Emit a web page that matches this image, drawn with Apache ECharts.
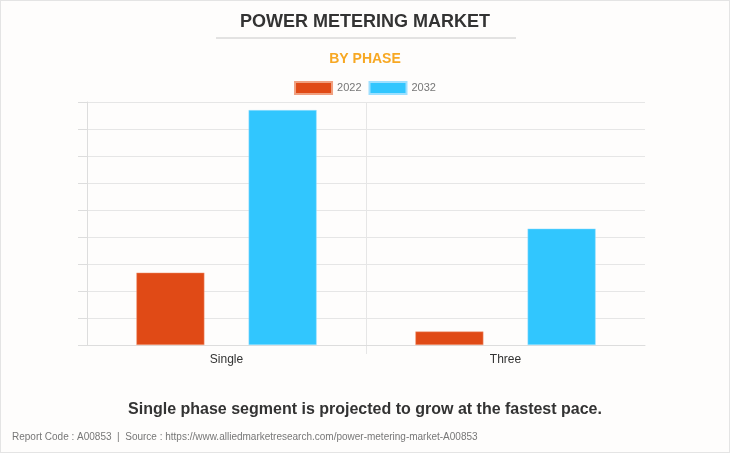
<!DOCTYPE html>
<html>
<head>
<meta charset="utf-8">
<script src="https://cdn.jsdelivr.net/npm/echarts@6/dist/echarts.min.js"></script>
<style>
html,body{margin:0;padding:0;background:#fff;}
#c{width:730px;height:453px;box-sizing:border-box;border:1px solid #e4e4e4;background:#fefdfc;}
</style>
</head>
<body>
<div id="c"></div>
<script>
const categories = ['Single', 'Three'];
const seriesNames = ['2022', '2032'];
const values2022 = [2.68, 0.50];
const values2032 = [8.70, 4.31];
const colors = ['#E04A16', '#31C6FE'];

const chart = echarts.init(document.getElementById('c'), null, {renderer: 'canvas'});
const font = 'Liberation Sans, Arial, sans-serif';
chart.setOption({
  backgroundColor: '#fefdfc',
  animation: false,
  textStyle: {fontFamily: font},
  title: [
    {text: 'POWER METERING MARKET', left: 'center', top: 7,
     textStyle: {fontSize: 18, fontWeight: 'bold', color: '#333', fontFamily: font}},
    {text: 'BY PHASE', left: 'center', top: 46,
     textStyle: {fontSize: 14, fontWeight: 'bold', color: '#F7A823', fontFamily: font}},
    {text: 'Single phase segment is projected to grow at the fastest pace.', left: 'center', top: 396,
     textStyle: {fontSize: 16, fontWeight: 'bold', color: '#333', fontFamily: font}},
    {text: 'Report Code : A00853  |  Source : https://www.alliedmarketresearch.com/power-metering-market-A00853', left: 6, top: 426,
     textStyle: {fontSize: 10, fontWeight: 'normal', color: '#777', fontFamily: font}}
  ],
  graphic: [
    {type: 'line', shape: {x1: 215, y1: 37, x2: 515, y2: 37}, style: {stroke: '#c8c8c8', lineWidth: 1}}
  ],
  legend: {
    top: 75, left: 'center', itemWidth: 37, itemHeight: 12, itemGap: 7,
    icon: 'rect',
    textStyle: {fontSize: 11, color: '#777', fontFamily: font},
    data: seriesNames
  },
  grid: {left: 86, right: 84, top: 101, bottom: 107, containLabel: false},
  xAxis: {
    type: 'category', data: categories,
    axisLine: {lineStyle: {color: '#ddd'}},
    axisTick: {show: false},
    axisLabel: {fontSize: 12, color: '#333', margin: 9, fontFamily: font},
    splitLine: {show: true, lineStyle: {color: ['transparent', '#e6e6e6', 'transparent']}}
  },
  yAxis: {
    type: 'value', min: 0, max: 9, interval: 1,
    axisLine: {show: true, lineStyle: {color: '#ddd'}},
    axisTick: {show: true, length: 9, lineStyle: {color: '#ddd'}},
    axisLabel: {show: false},
    splitLine: {lineStyle: {color: '#e6e6e6'}}
  },
  series: [
    {name: seriesNames[0], type: 'bar', data: values2022, barWidth: 68, barGap: '65%',
     itemStyle: {color: colors[0], borderColor: '#f0a080', borderWidth: 0.5}},
    {name: seriesNames[1], type: 'bar', data: values2032, barWidth: 68,
     itemStyle: {color: colors[1], borderColor: '#9ee0ff', borderWidth: 0.5}}
  ]
});
// category boundary tick below the axis, derived from the axis scale
const p0 = chart.convertToPixel({xAxisIndex: 0, yAxisIndex: 0}, [categories[0], 0]);
const p1 = chart.convertToPixel({xAxisIndex: 0, yAxisIndex: 0}, [categories[1], 0]);
const bx = Math.round((p0[0] + p1[0]) / 2) + 0.5;
chart.setOption({
  graphic: [
    {type: 'line', shape: {x1: 215, y1: 37, x2: 515, y2: 37}, style: {stroke: '#c8c8c8', lineWidth: 1}},
    {type: 'line', shape: {x1: bx, y1: p0[1], x2: bx, y2: p0[1] + 9}, style: {stroke: '#e6e6e6', lineWidth: 1}}
  ]
});
</script>
</body>
</html>
